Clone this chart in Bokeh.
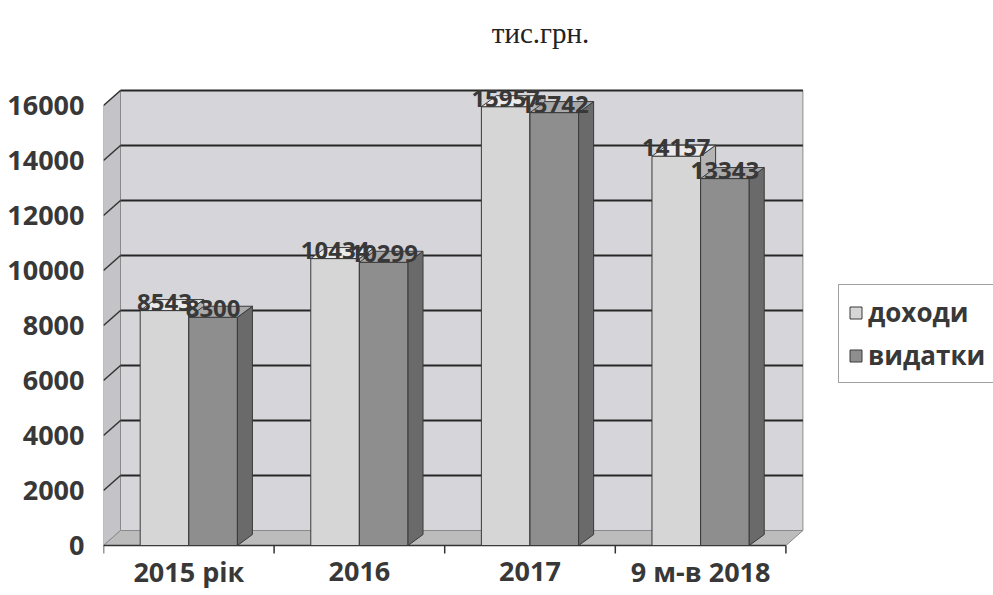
from bokeh.plotting import figure
from bokeh.models import Range1d, FixedTicker, Legend, LegendItem, ColumnDataSource
from bokeh.embed import file_html
from bokeh.resources import INLINE
from bokeh.core.properties import value

# ---- data ----
categories = ["2015 рік", "2016", "2017", "9 м-в 2018"]
income = [8543, 10434, 15957, 14157]      # доходи
expenses = [8300, 10299, 15742, 13343]    # видатки
y_ticks = [0, 2000, 4000, 6000, 8000, 10000, 12000, 14000, 16000]
series_names = ["доходи", "видатки"]
unit_text = "тис.грн."

# ---- layout (pixels) ----
W, H = 993, 595
X0, Y0 = 103, 545      # pixel position of the front-left corner (value 0, category edge 0)
PX_X = 170.6           # px per category band
PX_Y = 0.0275          # px per value unit
n = len(categories)
ymax = y_ticks[-1]

wdx, wdy = 17 / PX_X, 15 / PX_Y    # depth of back wall
bdx, bdy = 15 / PX_X, 11 / PX_Y    # depth of bars
bw = 0.285
tick_len = 8 / PX_Y

FONT = "Open Sans"
TXT = "#383838"

p = figure(width=W, height=H,
           x_range=Range1d(0, (W - X0) / PX_X),
           y_range=Range1d(-(H - Y0) / PX_Y, Y0 / PX_Y),
           output_backend="svg", toolbar_location=None,
           min_border_left=X0, min_border_right=0, min_border_top=0, min_border_bottom=0)
p.outline_line_color = None
p.grid.visible = False
p.xaxis.visible = False
p.background_fill_color = "white"
p.border_fill_color = "white"

# walls & floor
p.patch([wdx, n + wdx, n + wdx, wdx], [wdy, wdy, ymax + wdy, ymax + wdy],
        fill_color="#d6d6da", line_color="#8a8a8a", line_width=1)
p.patch([0, wdx, wdx, 0], [0, wdy, ymax + wdy, ymax], fill_color="#c4c4c8", line_color="#8a8a8a", line_width=1)
p.patch([0, n, n + wdx, wdx], [0, 0, wdy, wdy], fill_color="#bcbcbc", line_color="#8a8a8a", line_width=1)

# gridlines on back wall + diagonal ticks on side wall
gt = y_ticks[1:]
p.segment(x0=[wdx] * len(gt), y0=[t + wdy for t in gt], x1=[n + wdx] * len(gt), y1=[t + wdy for t in gt],
          line_color="#262626", line_width=2)
p.segment(x0=[0] * len(gt), y0=gt, x1=[wdx] * len(gt), y1=[t + wdy for t in gt],
          line_color="#333333", line_width=1.5)

# category axis line and ticks
p.segment(x0=[0], y0=[0], x1=[n], y1=[0], line_color="#333333", line_width=1.5)
p.segment(x0=list(range(n + 1)), y0=[0] * (n + 1), x1=list(range(n + 1)), y1=[-tick_len] * (n + 1),
          line_color="#333333", line_width=1.5)


def draw_bars(vals, offset, front, top, side):
    xl = [i + 0.5 + offset for i in range(n)]
    xr = [x + bw for x in xl]
    src = ColumnDataSource(dict(left=xl, right=xr, top=vals, bottom=[0] * n))
    r = p.quad(left="left", right="right", top="top", bottom="bottom", source=src,
               fill_color=front, line_color="#3a3a3a", line_width=1)
    p.patches([[r_, r_ + bdx, r_ + bdx, r_] for r_ in xr],
              [[0, bdy, v + bdy, v] for v in vals],
              fill_color=side, line_color="#3a3a3a", line_width=1)
    p.patches([[l, r_, r_ + bdx, l + bdx] for l, r_ in zip(xl, xr)],
              [[v, v, v + bdy, v + bdy] for v in vals],
              fill_color=top, line_color="#3a3a3a", line_width=1)
    return r, xl


r_inc, xl_inc = draw_bars(income, -bw, "#d6d6d6", "#ebebeb", "#b4b4b4")
r_exp, xl_exp = draw_bars(expenses, 0, "#8e8e8e", "#a9a9a9", "#6a6a6a")

# data labels
for xl, vals in ((xl_inc, income), (xl_exp, expenses)):
    p.text(x=[x + bw / 2 for x in xl], y=vals, text=[str(v) for v in vals],
           text_align="center", text_baseline="bottom", text_font=value(FONT),
           text_font_style="bold", text_font_size="24px", text_color=TXT)

# category labels
p.text(x=[i + 0.5 for i in range(n)], y=[-(571 - Y0) / PX_Y] * n, text=categories,
       text_align="center", text_baseline="middle", text_font=value(FONT),
       text_font_style="bold", text_font_size="27px", text_color=TXT)

# unit caption
p.text(x=[(540 - X0) / PX_X], y=[(Y0 - 32) / PX_Y], text=[unit_text],
       text_align="center", text_baseline="middle", text_font=value("Liberation Serif"),
       text_font_size="29px", text_color="#222222")

# y axis
p.yaxis.ticker = FixedTicker(ticks=y_ticks)
p.yaxis.axis_line_color = None
p.yaxis.major_tick_line_color = None
p.yaxis.minor_tick_line_color = None
p.yaxis.major_label_standoff = 13
p.yaxis.major_label_text_font = FONT
p.yaxis.major_label_text_font_style = "bold"
p.yaxis.major_label_text_font_size = "27px"
p.yaxis.major_label_text_color = TXT

legend = Legend(items=[LegendItem(label=series_names[0], renderers=[r_inc]),
                       LegendItem(label=series_names[1], renderers=[r_exp])],
                location=(838 - X0, H - 383), orientation="vertical")
legend.border_line_color = "#444444"
legend.border_line_width = 1.5
legend.background_fill_color = "white"
legend.background_fill_alpha = 1
legend.padding = 9
legend.margin = 0
legend.spacing = 7
legend.glyph_width = 15
legend.glyph_height = 15
legend.label_height = 33
legend.label_standoff = 5
legend.label_text_font = FONT
legend.label_text_font_style = "bold"
legend.label_text_font_size = "26px"
legend.label_text_color = TXT
p.add_layout(legend, "center")

open("out.html", "w").write(file_html(p, INLINE))
